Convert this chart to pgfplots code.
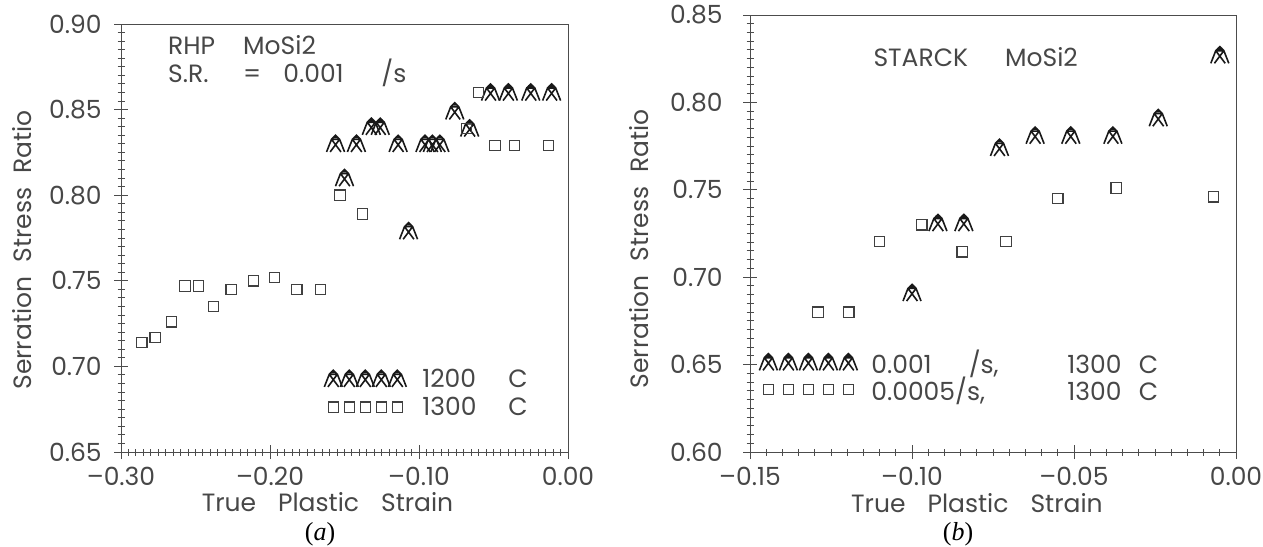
\documentclass[border=0pt]{standalone}
\usepackage{fontspec}
\setmainfont{Poppins}
\newfontfamily\capfont{Liberation Serif}
\usepackage{pgfplots}
\pgfplotsset{compat=1.18}

\pgfdeclareplotmark{pylon}{%
  \pgfpathmoveto{\pgfqpoint{-1\pgfplotmarksize}{-0.9\pgfplotmarksize}}%
  \pgfpathlineto{\pgfqpoint{-0.45\pgfplotmarksize}{0.5\pgfplotmarksize}}%
  \pgfpathlineto{\pgfqpoint{0.45\pgfplotmarksize}{0.5\pgfplotmarksize}}%
  \pgfpathlineto{\pgfqpoint{1\pgfplotmarksize}{-0.9\pgfplotmarksize}}%
  \pgfpathmoveto{\pgfqpoint{-0.45\pgfplotmarksize}{0.5\pgfplotmarksize}}%
  \pgfpathlineto{\pgfqpoint{0.6\pgfplotmarksize}{-0.9\pgfplotmarksize}}%
  \pgfpathmoveto{\pgfqpoint{0.45\pgfplotmarksize}{0.5\pgfplotmarksize}}%
  \pgfpathlineto{\pgfqpoint{-0.6\pgfplotmarksize}{-0.9\pgfplotmarksize}}%
  \pgfpathmoveto{\pgfqpoint{-0.45\pgfplotmarksize}{0.5\pgfplotmarksize}}%
  \pgfpathlineto{\pgfqpoint{0\pgfplotmarksize}{0.95\pgfplotmarksize}}%
  \pgfpathlineto{\pgfqpoint{0.45\pgfplotmarksize}{0.5\pgfplotmarksize}}%
  \pgfpathmoveto{\pgfqpoint{-0.3\pgfplotmarksize}{0.72\pgfplotmarksize}}%
  \pgfpathlineto{\pgfqpoint{0.3\pgfplotmarksize}{0.72\pgfplotmarksize}}%
  \pgfusepathqstroke
}

\newcommand\tickfont{\fontsize{12.5}{15}\selectfont}

\pgfplotsset{
  myax/.style={
    scale only axis, clip=false,
    axis line style={black!70, line width=0.5pt},
    tick style={black!70, line width=0.5pt},
    tick align=center, major tick length=7pt, minor tick length=3.5pt,
    xtick pos=left, ytick pos=left,
    /pgf/number format/assume math mode=true,
    /pgf/number format/fixed, /pgf/number format/fixed zerofill,
    /pgf/number format/precision=2,
    every tick label/.append style={font=\tickfont, text=black!72, inner sep=0pt},
    label style={font=\tickfont, text=black!72, inner sep=0pt},
    xticklabel style={anchor=north, yshift=-4pt},
    legend style={draw=none, fill=none, inner sep=0pt, nodes={inner sep=0pt, font=\tickfont, text=black!72}, legend cell align=left},
  },
  tri/.style={only marks, mark=pylon, mark size=4.5pt, black!90, line width=0.8pt},
  sq/.style={only marks, mark=square, mark size=2.6pt, black!75, line width=0.6pt},
}

\begin{document}
\begin{tikzpicture}
\path[use as bounding box] (0,0) rectangle (631.5pt,-273pt);

\begin{axis}[myax, at={(60.5pt,-226pt)}, anchor=south west,
  width=223.5pt, height=214pt,
  xmin=-0.30, xmax=0, ymin=0.65, ymax=0.90,
  xtick={-0.3,-0.2,-0.1,0}, xticklabels={--0.30,--0.20,--0.10,0.00},
  minor x tick num=19,
  ytick={0.65,0.70,0.75,0.80,0.85,0.90}, minor y tick num=9,
  yticklabel style={xshift=-6pt},
  xlabel={True\hspace{11pt}Plastic\hspace{11pt}Strain},
  ylabel={Serration\hspace{7pt}Stress\hspace{7pt}Ratio},
  xlabel style={at={(axis description cs:0.462,-0.116)}, anchor=center},
  ylabel style={at={(axis description cs:-0.2215,0.472)}, anchor=center},
  legend style={at={(axis description cs:0.454,0.1355)}, anchor=west, row sep=3.5pt},
  legend image code/.code={\draw[#1] plot coordinates {(0pt,0.5pt) (8pt,0.5pt) (16pt,0.5pt) (24pt,0.5pt) (32pt,0.5pt)};},
]
\addplot[tri] coordinates {
(-0.156,0.830) (-0.150,0.810) (-0.142,0.830) (-0.132,0.840) (-0.126,0.840)
(-0.114,0.830) (-0.107,0.779) (-0.096,0.830) (-0.091,0.830) (-0.086,0.830)
(-0.076,0.849) (-0.066,0.839) (-0.052,0.860) (-0.040,0.860) (-0.025,0.860)
(-0.011,0.860)};
\addlegendentry{\hspace{8pt}\makebox[43pt][l]{1200}C}
\addplot[sq] coordinates {
(-0.286,0.714) (-0.277,0.717) (-0.266,0.726) (-0.257,0.747) (-0.248,0.747)
(-0.238,0.735) (-0.226,0.745) (-0.211,0.750) (-0.197,0.752) (-0.182,0.745)
(-0.166,0.745) (-0.153,0.800) (-0.138,0.789) (-0.068,0.839) (-0.060,0.860)
(-0.049,0.829) (-0.036,0.829) (-0.013,0.829)};
\addlegendentry{\hspace{8pt}\makebox[43pt][l]{1300}C}
\node[anchor=west, font=\tickfont, text=black!72, inner sep=0pt] at (axis cs:-0.2686,0.8878) {\makebox[37.5pt][l]{RHP}MoSi2};
\node[anchor=west, font=\tickfont, text=black!72, inner sep=0pt] at (axis cs:-0.2686,0.8715) {\makebox[37.5pt][l]{S.R.}\makebox[20.1pt][l]{=}\makebox[49pt][l]{0.001}/s};
\end{axis}

\begin{axis}[myax, at={(375pt,-226pt)}, anchor=south west,
  width=243pt, height=218.5pt,
  xmin=-0.15, xmax=0, ymin=0.60, ymax=0.85,
  xtick={-0.15,-0.10,-0.05,0}, xticklabels={--0.15,--0.10,--0.05,0.00},
  minor x tick num=9,
  ytick={0.60,0.65,0.70,0.75,0.80,0.85}, minor y tick num=9,
  yticklabel style={xshift=-10pt},
  xlabel={True\hspace{11pt}Plastic\hspace{11pt}Strain},
  ylabel={Serration\hspace{7pt}Stress\hspace{7pt}Ratio},
  xlabel style={at={(axis description cs:0.467,-0.1165)}, anchor=center},
  ylabel style={at={(axis description cs:-0.228,0.465)}, anchor=center},
  legend style={at={(axis description cs:0.0185,0.172)}, anchor=west, row sep=0.3pt},
  legend image code/.code={\draw[#1] plot coordinates {(0pt,0.5pt) (10pt,0.5pt) (20pt,0.5pt) (30pt,0.5pt) (40pt,0.5pt)};},
]
\addplot[tri] coordinates {
(-0.100,0.691) (-0.092,0.731) (-0.084,0.731) (-0.073,0.774) (-0.062,0.781)
(-0.051,0.781) (-0.038,0.781) (-0.024,0.791) (-0.005,0.827)};
\addlegendentry{\hspace{7pt}\makebox[98pt][l]{\makebox[48.7pt][l]{0.001}/s,}\makebox[35.7pt][l]{1300}C}
\addplot[sq] coordinates {
(-0.129,0.680) (-0.1195,0.680) (-0.110,0.7205) (-0.097,0.730) (-0.0845,0.7145)
(-0.071,0.7205) (-0.055,0.745) (-0.037,0.751) (-0.007,0.746)};
\addlegendentry{\hspace{7pt}\makebox[98pt][l]{0.0005/s,}\makebox[35.7pt][l]{1300}C}
\node[anchor=west, font=\tickfont, text=black!72, inner sep=0pt] at (axis cs:-0.112,0.826) {\makebox[65.8pt][l]{STARCK}MoSi2};
\end{axis}

\node[inner sep=0pt, font=\capfont\fontsize{13}{15}\selectfont] at (160pt,-267pt) {(\textit{a})};
\node[inner sep=0pt, font=\capfont\fontsize{13}{15}\selectfont] at (479pt,-267pt) {(\textit{b})};
\end{tikzpicture}
\end{document}
